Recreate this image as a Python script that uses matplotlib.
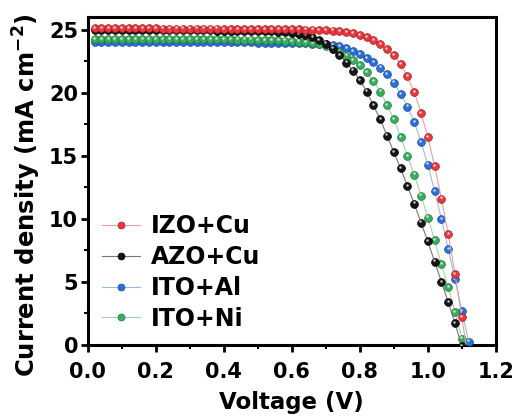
import numpy as np
import matplotlib
matplotlib.use('Agg')
import matplotlib.pyplot as plt
from matplotlib.transforms import offset_copy
from matplotlib.ticker import MultipleLocator

plt.rcParams['font.family'] = ['DejaVu Sans']
plt.rcParams['font.weight'] = 'bold'
plt.rcParams['mathtext.fontset'] = 'dejavusans'
plt.rcParams['mathtext.default'] = 'bf'

# Voltage steps (V), 0.02 V apart
voltage = [0.02, 0.04, 0.06, 0.08, 0.10, 0.12, 0.14, 0.16, 0.18, 0.20,
           0.22, 0.24, 0.26, 0.28, 0.30, 0.32, 0.34, 0.36, 0.38, 0.40,
           0.42, 0.44, 0.46, 0.48, 0.50, 0.52, 0.54, 0.56, 0.58, 0.60,
           0.62, 0.64, 0.66, 0.68, 0.70, 0.72, 0.74, 0.76, 0.78, 0.80,
           0.82, 0.84, 0.86, 0.88, 0.90, 0.92, 0.94, 0.96, 0.98, 1.00,
           1.02, 1.04, 1.06, 1.08, 1.10, 1.12]

# Current density (mA cm-2)
izo_cu = [25.12, 25.12, 25.12, 25.12, 25.12, 25.11, 25.11, 25.11, 25.11, 25.11,
          25.10, 25.10, 25.10, 25.10, 25.10, 25.09, 25.09, 25.09, 25.09, 25.08,
          25.08, 25.08, 25.07, 25.07, 25.07, 25.06, 25.06, 25.05, 25.05, 25.04,
          25.03, 25.02, 25.01, 24.99, 24.97, 24.94, 24.90, 24.84, 24.75, 24.60,
          24.40, 24.15, 23.85, 23.45, 23.0, 22.3, 21.3, 20.05, 18.4, 16.5,
          14.2, 11.6, 8.8, 5.6, 2.2, -1.3]
azo_cu = [24.98, 24.98, 24.98, 24.98, 24.98, 24.98, 24.97, 24.97, 24.97, 24.97,
          24.97, 24.96, 24.96, 24.96, 24.96, 24.95, 24.95, 24.95, 24.94, 24.94,
          24.93, 24.93, 24.92, 24.91, 24.90, 24.89, 24.87, 24.84, 24.80, 24.75,
          24.68, 24.58, 24.42, 24.20, 23.90, 23.50, 23.00, 22.40, 21.75, 21.0,
          20.1, 19.0, 17.9, 16.6, 15.3, 14.0, 12.6, 11.2, 9.7, 8.2,
          6.6, 5.0, 3.4, 1.7, -0.1]
ito_al = [24.02, 24.02, 24.02, 24.02, 24.02, 24.02, 24.02, 24.02, 24.02, 24.02,
          24.02, 24.02, 24.02, 24.02, 24.01, 24.01, 24.01, 24.01, 24.01, 24.01,
          24.00, 24.00, 24.00, 24.00, 23.99, 23.99, 23.98, 23.98, 23.97, 23.96,
          23.95, 23.93, 23.91, 23.88, 23.84, 23.77, 23.68, 23.53, 23.33, 23.08,
          22.78, 22.42, 22.0, 21.5, 20.8, 19.9, 18.9, 17.7, 16.1, 14.3,
          12.2, 10.0, 7.6, 5.2, 2.7, 0.26]
ito_ni = [24.26, 24.26, 24.26, 24.26, 24.26, 24.26, 24.26, 24.26, 24.26, 24.25,
          24.25, 24.25, 24.25, 24.25, 24.25, 24.24, 24.24, 24.24, 24.24, 24.23,
          24.23, 24.22, 24.22, 24.21, 24.20, 24.19, 24.18, 24.16, 24.14, 24.11,
          24.07, 24.01, 23.94, 23.84, 23.70, 23.50, 23.25, 22.95, 22.62, 22.20,
          21.65, 20.95, 20.1, 19.05, 17.9, 16.5, 15.0, 13.5, 11.85, 10.1,
          8.3, 6.4, 4.55, 2.6, 0.5]

labels = ['IZO+Cu', 'AZO+Cu', 'ITO+Al', 'ITO+Ni']
series = [izo_cu, azo_cu, ito_al, ito_ni]
colors = ['#e5393f', '#151515', '#2b6fd8', '#3aac5e']
edge_colors = ['#a81e22', '#000000', '#1a4a9a', '#22783c']
line_colors = ['#e8a0a0', '#777777', '#9db8e0', '#a3d2b0']
zorders = [8, 7, 5, 6]

fig, ax = plt.subplots(figsize=(5.17, 4.19), dpi=100)
fig.subplots_adjust(left=0.170, right=0.959, bottom=0.177, top=0.959)

# small white highlight drawn slightly up-left of each marker
shine = offset_copy(ax.transData, fig=fig, x=-0.5, y=0.9, units='points')
handles = []
for lab, ys, c, ec, lc, z in zip(labels, series, colors, edge_colors, line_colors, zorders):
    xs = voltage[:len(ys)]
    ax.plot(xs, ys, '-', color=lc, lw=0.8, zorder=z)
    ax.plot(xs, ys, 'o', ms=5.6, color=c, mec=ec, mew=0.5, zorder=z)
    ax.plot(xs, ys, 'o', ms=1.8, color='white', mew=0, alpha=0.75,
            transform=shine, zorder=z)
    handles.append(plt.Line2D([], [], color=lc, lw=0.8, marker='o', ms=5.0,
                              mfc=c, mec=ec, mew=0.5))

ax.set_xlim(0, 1.2)
ax.set_ylim(0, 26)
ax.xaxis.set_major_locator(MultipleLocator(0.2))
ax.xaxis.set_minor_locator(MultipleLocator(0.1))
ax.yaxis.set_major_locator(MultipleLocator(5))
ax.yaxis.set_minor_locator(MultipleLocator(2.5))
ax.xaxis.set_major_formatter(plt.FormatStrFormatter('%.1f'))
ax.tick_params(which='major', direction='out', length=5, width=2, labelsize=15, pad=2)
ax.tick_params(axis='x', which='major', pad=7)
ax.tick_params(which='minor', direction='out', length=3, width=1.5)
for s in ax.spines.values():
    s.set_linewidth(2.2)

ax.set_xlabel('Voltage (V)', fontsize=16.5, fontweight='bold', labelpad=7)
ax.set_ylabel(r'Current density (mA cm$^{-2}$)', fontsize=17.5, fontweight='bold')
ax.yaxis.set_label_coords(-0.11, 0.457)

ax.legend(handles, labels, loc='lower left', frameon=False, fontsize=17,
          handlelength=1.6, handletextpad=0.45, labelspacing=0.29,
          borderaxespad=0.2, bbox_to_anchor=(0.0, 0.0))

fig.savefig('out.png', dpi=100)
